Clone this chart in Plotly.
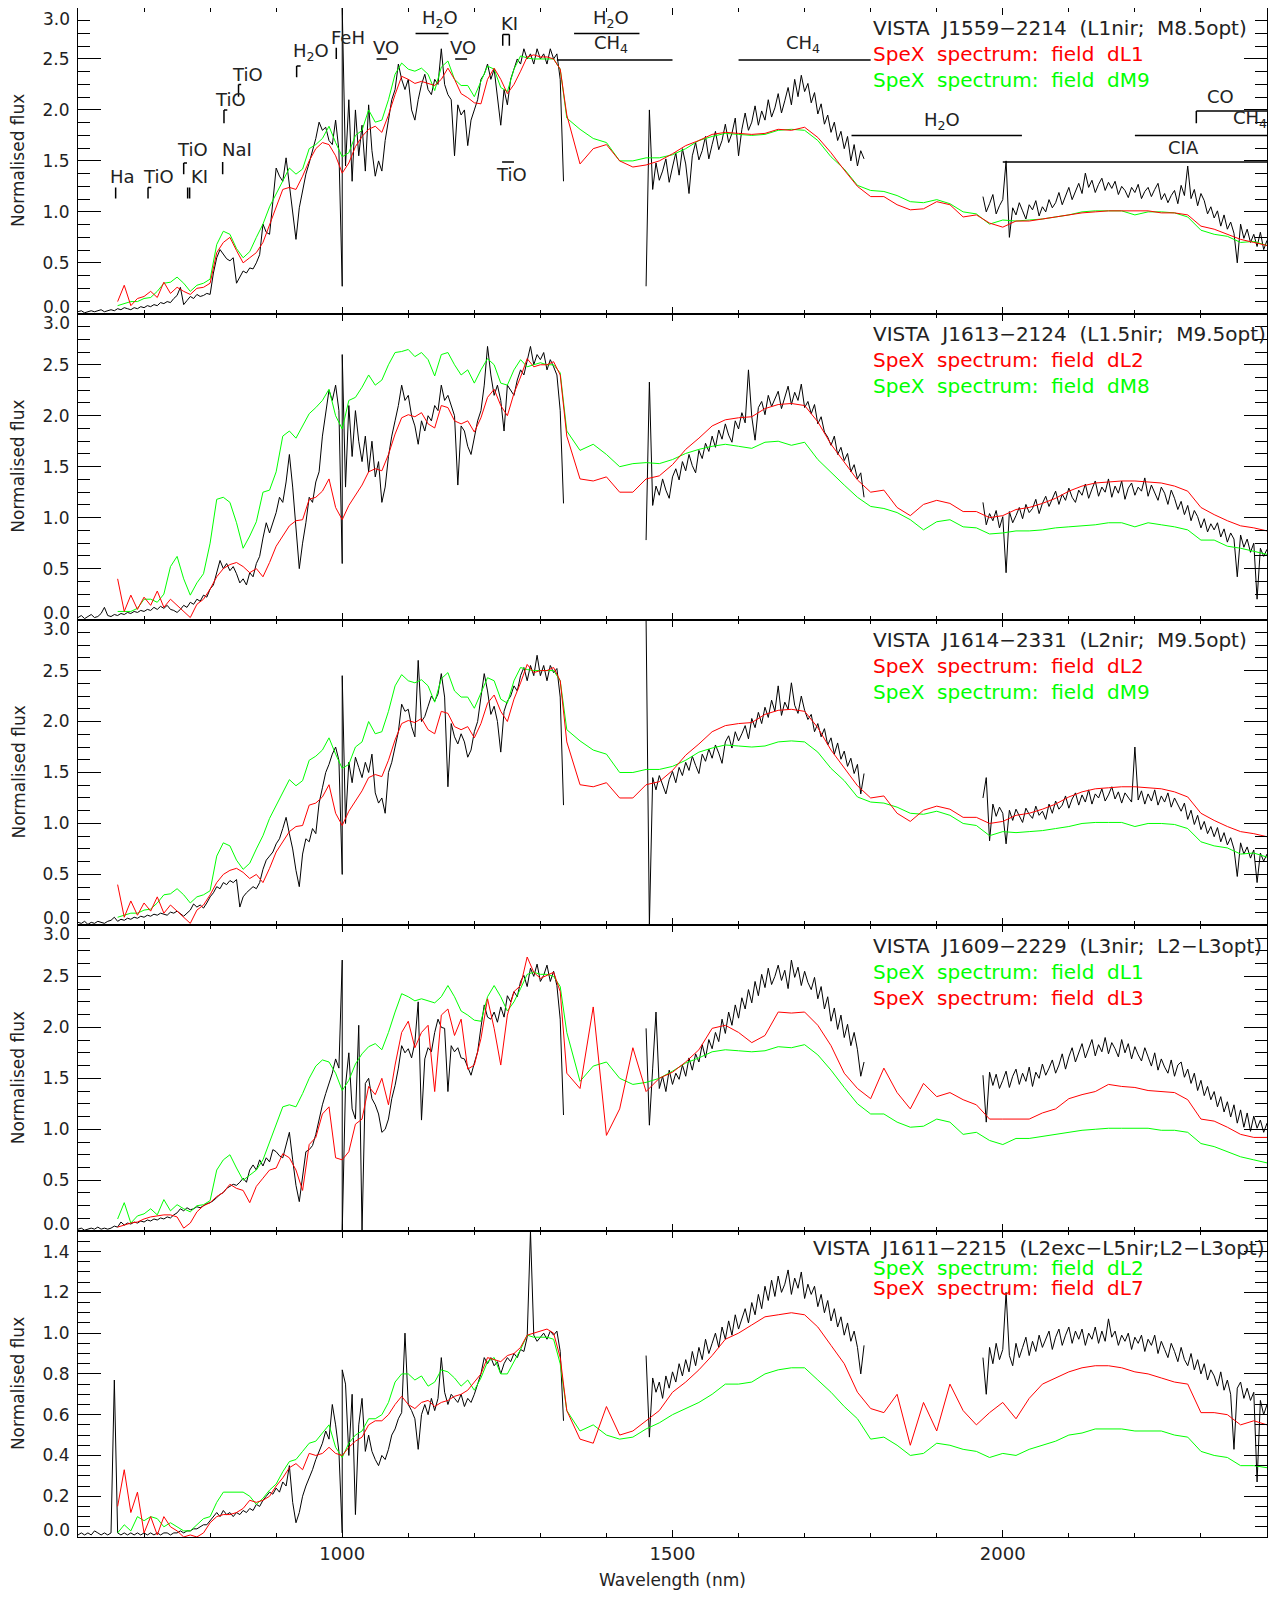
import plotly.graph_objects as go
from plotly.subplots import make_subplots

# ---------------------------------------------------------------------------
# Template (SpeX) spectra: part A 660-1340 nm every 10 nm, part B 1360-2400 nm every 20 nm
# ---------------------------------------------------------------------------
DL1_A = [0.12, 0.28, 0.08, 0.15,
         0.17, 0.22, 0.16, 0.31, 0.20, 0.26, 0.22, 0.19, 0.25, 0.26,
         0.30, 0.60, 0.70, 0.75, 0.62, 0.50, 0.55, 0.60, 0.70, 0.88,
         1.05, 1.22, 1.24, 1.22, 1.35, 1.50, 1.62, 1.68, 1.66, 1.55,
         1.38, 1.48, 1.64, 1.74, 1.81, 1.84, 1.78, 1.95, 2.15, 2.33,
         2.30, 2.26, 2.28, 2.26, 2.24, 2.30, 2.41, 2.30, 2.16, 2.12,
         2.07, 2.06, 2.30, 2.41, 2.30, 2.16, 2.25, 2.38, 2.52, 2.54,
         2.52, 2.52, 2.50, 2.40, 1.95]
DL1_B = [1.47, 1.62, 1.66, 1.50, 1.44,
         1.46, 1.50, 1.57, 1.65, 1.70, 1.76, 1.78, 1.77, 1.76, 1.77,
         1.81, 1.80, 1.83, 1.73, 1.58, 1.41, 1.25, 1.15, 1.15, 1.07,
         1.02, 1.03, 1.10, 1.07, 0.95, 0.97, 0.89, 0.85, 0.91, 0.91,
         0.93, 0.95, 0.97, 0.99, 1.00, 1.01, 1.01, 1.01, 1.01, 0.99,
         0.99, 0.97, 0.86, 0.83, 0.78, 0.73, 0.70, 0.67]

DM9_A = [0.08, 0.10, 0.12, 0.12,
         0.15, 0.16, 0.22, 0.30, 0.31, 0.36, 0.30, 0.22, 0.28, 0.30,
         0.34, 0.68, 0.81, 0.78, 0.64, 0.55, 0.61, 0.75, 0.88, 1.05,
         1.18, 1.30, 1.43, 1.37, 1.42, 1.62, 1.66, 1.72, 1.84, 1.68,
         1.54, 1.58, 1.75, 1.80, 2.00, 1.88, 1.90, 2.10, 2.35, 2.46,
         2.40, 2.38, 2.41, 2.35, 2.19, 2.42, 2.48, 2.30, 2.24, 2.24,
         2.13, 2.28, 2.43, 2.40, 2.22, 2.18, 2.40, 2.53, 2.51, 2.50,
         2.50, 2.50, 2.50, 2.40, 1.92]
DM9_B = [1.81, 1.72, 1.68, 1.50, 1.50,
         1.53, 1.53, 1.56, 1.62, 1.70, 1.74, 1.77, 1.76, 1.75, 1.76,
         1.80, 1.81, 1.80, 1.70, 1.54, 1.42, 1.26, 1.21, 1.20, 1.16,
         1.10, 1.09, 1.12, 1.08, 1.00, 0.98, 0.88, 0.92, 0.91, 0.92,
         0.93, 0.95, 0.97, 1.00, 1.01, 1.01, 1.01, 0.97, 1.00, 1.00,
         0.99, 0.95, 0.82, 0.78, 0.76, 0.70, 0.71, 0.67]

DL2_A = [0.40, 0.08, 0.24, 0.10,
         0.22, 0.14, 0.28, 0.12, 0.20, 0.14, 0.08, 0.02, 0.15, 0.20,
         0.30, 0.42, 0.50, 0.54, 0.56, 0.52, 0.46, 0.50, 0.42, 0.56,
         0.72, 0.82, 0.92, 0.97, 0.98, 1.18, 1.20, 1.26, 1.38, 1.10,
         0.98, 1.12, 1.22, 1.32, 1.45, 1.48, 1.46, 1.62, 1.82, 1.98,
         2.01, 1.99, 2.03, 1.92, 1.88, 2.10, 2.08, 1.95, 1.92, 1.95,
         1.84, 1.98, 2.18, 2.26, 2.10, 2.00, 2.22, 2.38, 2.56, 2.48,
         2.50, 2.50, 2.53, 2.40, 1.80]
DL2_B = [1.38, 1.36, 1.40, 1.25, 1.25,
         1.38, 1.41, 1.52, 1.67, 1.78, 1.90, 1.96, 1.98, 1.99, 2.07,
         2.11, 2.12, 2.10, 1.94, 1.72, 1.54, 1.37, 1.25, 1.27, 1.10,
         1.02, 1.13, 1.17, 1.14, 1.06, 1.06, 1.00, 1.02, 1.08, 1.10,
         1.14, 1.19, 1.26, 1.31, 1.34, 1.35, 1.36, 1.36, 1.35, 1.34,
         1.31, 1.26, 1.10, 1.03, 0.97, 0.92, 0.90, 0.87]

DM8_A = [0.08, 0.08, 0.08, 0.11,
         0.20, 0.20, 0.17, 0.25, 0.52, 0.62, 0.40, 0.24, 0.36, 0.45,
         0.75, 1.18, 1.20, 1.15, 0.95, 0.70, 0.82, 0.96, 1.25, 1.27,
         1.45, 1.80, 1.85, 1.78, 1.90, 2.02, 2.08, 2.15, 2.26, 2.00,
         1.87, 2.15, 2.18, 2.28, 2.40, 2.30, 2.35, 2.50, 2.62, 2.63,
         2.65, 2.58, 2.62, 2.55, 2.39, 2.60, 2.62, 2.50, 2.40, 2.45,
         2.32, 2.45, 2.56, 2.50, 2.32, 2.30, 2.45, 2.55, 2.48, 2.50,
         2.52, 2.50, 2.50, 2.42, 1.85]
DM8_B = [1.66, 1.72, 1.62, 1.50, 1.53,
         1.54, 1.53, 1.57, 1.63, 1.67, 1.70, 1.72, 1.70, 1.68, 1.74,
         1.75, 1.71, 1.74, 1.57, 1.44, 1.32, 1.20, 1.11, 1.09, 1.05,
         0.98, 0.88, 0.96, 0.98, 0.91, 0.90, 0.84, 0.85, 0.87, 0.87,
         0.88, 0.90, 0.91, 0.92, 0.93, 0.95, 0.95, 0.91, 0.95, 0.93,
         0.91, 0.88, 0.78, 0.78, 0.72, 0.70, 0.67, 0.64]

DL3_A = [0.04, 0.06, 0.08, 0.09,
         0.12, 0.14, 0.15, 0.16, 0.16, 0.14, 0.03, 0.08, 0.19, 0.25,
         0.28, 0.34, 0.38, 0.46, 0.42, 0.40, 0.28, 0.44, 0.52, 0.60,
         0.62, 0.76, 0.72, 0.60, 0.40, 0.85, 0.92, 1.15, 1.22, 0.72,
         0.70, 0.78, 1.05, 1.10, 1.42, 1.34, 1.50, 1.24, 1.63, 1.95,
         2.06, 1.80, 1.95, 2.02, 1.37, 2.12, 2.18, 1.92, 2.08, 1.59,
         1.63, 1.89, 2.28, 1.99, 1.63, 2.12, 2.35, 2.41, 2.69, 2.54,
         2.48, 2.51, 2.54, 2.35, 1.55]
DL3_B = [1.40, 2.20, 0.94, 1.20, 1.80,
         1.37, 1.50, 1.56, 1.66, 1.78, 1.99, 2.02, 1.95, 1.85, 1.92,
         2.15, 2.14, 2.15, 2.02, 1.82, 1.55, 1.40, 1.30, 1.60, 1.36,
         1.20, 1.45, 1.32, 1.36, 1.29, 1.24, 1.10, 1.10, 1.10, 1.10,
         1.16, 1.20, 1.30, 1.34, 1.37, 1.44, 1.42, 1.41, 1.38, 1.37,
         1.36, 1.29, 1.10, 1.08, 1.02, 0.95, 0.92, 0.92]

DL7_A = [0.15, 0.33, 0.12, 0.22,
         0.02, 0.10, 0.01, 0.10, 0.05, 0.03, 0.00, 0.01, 0.00, 0.02,
         0.07, 0.10, 0.11, 0.11, 0.12, 0.14, 0.18, 0.17, 0.18, 0.20,
         0.25, 0.29, 0.34, 0.36, 0.33, 0.41, 0.40, 0.41, 0.44, 0.41,
         0.40, 0.44, 0.47, 0.49, 0.55, 0.57, 0.57, 0.60, 0.65, 0.69,
         0.65, 0.63, 0.66, 0.67, 0.64, 0.66, 0.67, 0.69, 0.70, 0.72,
         0.76, 0.80, 0.88, 0.87, 0.86, 0.89, 0.90, 0.93, 0.99, 1.00,
         1.01, 1.02, 1.00, 0.88, 0.62]
DL7_B = [0.48, 0.46, 0.64, 0.50, 0.52,
         0.57, 0.62, 0.71, 0.76, 0.82, 0.89, 0.97, 1.00, 1.04, 1.08,
         1.09, 1.10, 1.09, 1.03, 0.94, 0.85, 0.71, 0.63, 0.61, 0.70,
         0.45, 0.66, 0.52, 0.75, 0.62, 0.55, 0.61, 0.66, 0.58, 0.68,
         0.75, 0.78, 0.81, 0.83, 0.84, 0.84, 0.83, 0.81, 0.80, 0.78,
         0.76, 0.75, 0.61, 0.61, 0.60, 0.55, 0.57, 0.55]

DL2N_A = [0.02, 0.06, 0.03, 0.10,
          0.08, 0.10, 0.09, 0.05, 0.07, 0.05, 0.03, 0.03, 0.06, 0.09,
          0.10, 0.17, 0.22, 0.22, 0.22, 0.22, 0.20, 0.16, 0.19, 0.23,
          0.26, 0.32, 0.37, 0.38, 0.42, 0.46, 0.47, 0.51, 0.55, 0.44,
          0.39, 0.46, 0.50, 0.52, 0.58, 0.58, 0.60, 0.66, 0.76, 0.80,
          0.80, 0.77, 0.79, 0.74, 0.76, 0.82, 0.81, 0.78, 0.74, 0.77,
          0.72, 0.78, 0.86, 0.88, 0.80, 0.80, 0.86, 0.92, 0.99, 0.98,
          0.98, 0.98, 0.97, 0.85, 0.62]
DL2N_B = [0.52, 0.55, 0.50, 0.48, 0.49,
          0.53, 0.56, 0.60, 0.63, 0.66, 0.70, 0.75, 0.75, 0.76, 0.80,
          0.82, 0.83, 0.83, 0.77, 0.71, 0.64, 0.58, 0.48, 0.49, 0.45,
          0.40, 0.41, 0.46, 0.45, 0.43, 0.42, 0.39, 0.41, 0.40, 0.43,
          0.45, 0.47, 0.50, 0.51, 0.53, 0.53, 0.53, 0.52, 0.52, 0.52,
          0.50, 0.49, 0.42, 0.40, 0.39, 0.35, 0.35, 0.34]

# ---------------------------------------------------------------------------
# VISTA target spectra, every 5 nm: optical 600-1000, J 1000-1335, H 1460-1790, K 1970-2400
# ---------------------------------------------------------------------------
P1_OPT = [0.02, 0.03, 0.01, 0.02, 0.03, 0.02, 0.03, 0.04, 0.02, 0.03,
          0.04, 0.03, 0.05, 0.04, 0.06, 0.05, 0.04, 0.06, 0.05, 0.07,
          0.06, 0.08, 0.07, 0.09, 0.08, 0.11, 0.10, 0.12, 0.11, 0.15,
          0.18, 0.26, 0.09, 0.13, 0.17, 0.15, 0.19, 0.17, 0.18, 0.20,
          0.19, 0.40, 0.55, 0.63, 0.58, 0.54, 0.52, 0.55, 0.30, 0.36,
          0.42, 0.40, 0.45, 0.44, 0.50, 0.58, 0.88, 0.80, 0.78, 1.10,
          1.43, 1.35, 1.30, 1.53, 1.27, 1.00, 0.73, 1.04, 1.20, 1.37,
          1.48, 1.60, 1.72, 1.88, 1.80, 1.83, 1.70, 1.66, 1.90, 1.60,
          0.27]
P1_J = [3.00, 1.45, 2.10, 1.30, 2.00, 1.55, 1.85, 1.40, 2.05, 1.60,
        1.35, 1.50, 1.40, 1.70, 1.90, 2.10, 2.20, 2.45, 2.30, 2.20,
        2.30, 2.00, 1.90, 2.10, 2.25, 2.35, 2.20, 2.15, 2.30, 2.25,
        2.60, 2.25, 2.15, 2.10, 1.55, 2.05, 1.95, 2.00, 1.65, 1.90,
        2.00, 2.10, 2.30, 2.35, 2.45, 2.30, 2.40, 2.10, 1.85, 2.20,
        2.05, 2.30, 2.40, 2.50, 2.45, 2.60, 2.50, 2.55, 2.45, 2.60,
        2.50, 2.55, 2.45, 2.60, 2.50, 2.55, 2.30, 1.30]
P1_H = [0.27, 2.00, 1.22, 1.48, 1.31, 1.40, 1.52, 1.29, 1.44, 1.58,
        1.36, 1.62, 1.47, 1.18, 1.55, 1.68, 1.51, 1.60, 1.74, 1.52,
        1.66, 1.79, 1.61, 1.70, 1.86, 1.68, 1.77, 1.92, 1.55, 1.81,
        1.97, 1.80, 1.88, 2.04, 1.85, 1.99, 1.90, 2.10, 1.93, 2.02,
        2.16, 1.97, 2.09, 2.22, 2.05, 2.30, 2.13, 2.34, 2.18, 2.26,
        2.07, 2.17, 1.96, 2.06, 1.86, 1.95, 1.78, 1.88, 1.70, 1.79,
        1.62, 1.74, 1.50, 1.66, 1.45, 1.60, 1.52]
P1_K = [1.15, 1.00, 1.08, 1.17, 0.98, 1.06, 1.12, 1.50, 0.75, 1.04,
        0.97, 1.09, 1.01, 0.93, 1.07, 1.02, 1.11, 0.96, 1.05, 1.00,
        1.12, 1.04, 1.09, 1.19, 1.07, 1.15, 1.24, 1.12, 1.20, 1.28,
        1.18, 1.38, 1.24, 1.31, 1.19, 1.27, 1.33, 1.21, 1.29, 1.23,
        1.30, 1.17, 1.25, 1.21, 1.14, 1.24, 1.19, 1.27, 1.13, 1.20,
        1.24, 1.15, 1.22, 1.28, 1.12, 1.18, 1.09, 1.16, 1.21, 1.08,
        1.26, 1.16, 1.45, 1.13, 1.22, 1.06, 1.18, 1.11, 0.98, 1.05,
        0.94, 1.01, 0.86, 0.97, 0.83, 0.90, 0.79, 0.50, 0.88, 0.74,
        0.83, 0.70, 0.78, 0.66, 0.80, 0.63, 0.72]

P2_OPT = [0.02, 0.04, 0.01, 0.03, 0.05, 0.02, 0.03, 0.06, 0.12, 0.04,
          0.03, 0.05, 0.04, 0.06, 0.05, 0.07, 0.06, 0.08, 0.07, 0.09,
          0.08, 0.10, 0.09, 0.12, 0.10, 0.13, 0.11, 0.14, 0.10, 0.09,
          0.07, 0.10, 0.14, 0.12, 0.17, 0.15, 0.20, 0.18, 0.24, 0.22,
          0.30, 0.34, 0.45, 0.58, 0.50, 0.55, 0.48, 0.52, 0.45, 0.36,
          0.40, 0.34, 0.46, 0.42, 0.55, 0.62, 0.80, 0.95, 0.85, 0.95,
          1.05, 1.20, 1.15, 1.35, 1.62, 1.30, 0.90, 0.50, 0.75, 0.95,
          1.20, 1.15, 1.35, 1.45, 1.80, 2.05, 2.25, 2.15, 2.30, 2.05,
          0.55]
P2_J = [2.60, 1.30, 2.10, 1.60, 2.05, 1.75, 1.55, 1.80, 1.45, 1.75,
        1.40, 1.55, 1.15, 1.30, 1.60, 1.80, 1.95, 2.10, 2.30, 2.15,
        2.20, 2.00, 1.90, 1.72, 1.95, 1.85, 2.00, 1.95, 2.10, 2.05,
        2.30, 2.15, 2.20, 2.10, 2.00, 1.32, 1.90, 1.85, 1.70, 1.62,
        1.80, 1.95, 2.05, 2.30, 2.68, 2.40, 2.20, 2.30, 2.15, 1.85,
        2.30, 2.25, 2.20, 2.35, 2.45, 2.40, 2.55, 2.68, 2.50, 2.60,
        2.55, 2.62, 2.45, 2.55, 2.48, 2.40, 2.05, 1.14]
P2_H = [0.78, 2.33, 1.12, 1.31, 1.22, 1.38, 1.27, 1.19, 1.40, 1.48,
        1.37, 1.55, 1.46, 1.62, 1.51, 1.44, 1.66, 1.58, 1.73, 1.65,
        1.80, 1.69, 1.86, 1.77, 1.92, 1.81, 1.74, 1.95, 1.87, 2.03,
        1.93, 2.45, 1.99, 1.76, 2.08, 2.14, 2.01, 2.20, 2.09, 2.16,
        2.24, 2.07, 2.19, 2.29, 2.11, 2.23, 2.15, 2.31, 2.08, 2.14,
        2.02, 2.11, 1.92, 1.99, 1.84, 1.79, 1.71, 1.80, 1.62, 1.69,
        1.56, 1.63, 1.45, 1.52, 1.38, 1.44, 1.20]
P2_K = [1.15, 0.93, 1.04, 0.97, 1.07, 0.90, 1.01, 0.46, 1.06, 0.95,
        1.02, 1.10, 0.99, 1.13, 1.05, 1.09, 1.18, 1.04, 1.14, 1.21,
        1.11, 1.19, 1.26, 1.13, 1.23, 1.17, 1.29, 1.20, 1.15, 1.27,
        1.22, 1.33, 1.19, 1.28, 1.36, 1.21, 1.30, 1.25, 1.38, 1.20,
        1.31, 1.24, 1.36, 1.18, 1.29, 1.34, 1.22, 1.30, 1.26, 1.39,
        1.21, 1.32, 1.25, 1.17, 1.30, 1.24, 1.13, 1.27, 1.19, 1.08,
        1.16, 1.03, 1.12, 0.97, 1.07, 1.01, 0.90, 0.99, 0.86, 0.94,
        0.88, 0.95, 0.81, 0.89, 0.76, 0.85, 0.79, 0.42, 0.83, 0.71,
        0.79, 0.66, 0.75, 0.20, 0.70, 0.62, 0.69]

P3_OPT = [0.03, 0.02, 0.04, 0.01, 0.03, 0.02, 0.04, 0.03, 0.02, 0.04,
          0.05, 0.08, 0.04, 0.06, 0.05, 0.07, 0.06, 0.08, 0.07, 0.09,
          0.08, 0.10, 0.09, 0.11, 0.10, 0.12, 0.11, 0.10, 0.13, 0.12,
          0.14, 0.11, 0.09, 0.12, 0.15, 0.21, 0.18, 0.20, 0.17, 0.22,
          0.28, 0.32, 0.38, 0.36, 0.42, 0.40, 0.44, 0.42, 0.45, 0.18,
          0.28, 0.32, 0.35, 0.38, 0.36, 0.42, 0.55, 0.64, 0.68, 0.72,
          0.80, 0.85, 0.95, 1.06, 0.90, 0.75, 0.54, 0.38, 0.70, 0.85,
          0.82, 0.95, 0.90, 1.20, 1.35, 1.50, 1.58, 1.68, 1.75, 1.62,
          0.50]
P3_J = [2.45, 1.00, 1.60, 1.40, 1.65, 1.55, 1.45, 1.60, 1.50, 1.68,
        1.30, 1.20, 1.25, 1.10, 1.50, 1.60, 1.75, 1.90, 2.17, 2.10,
        2.12, 1.95, 1.85, 2.60, 2.00, 2.05, 2.15, 2.25, 2.20, 2.27,
        2.47, 2.24, 1.36, 1.98, 1.85, 1.78, 1.88, 1.80, 1.65, 1.72,
        1.90, 2.00, 2.24, 2.47, 2.30, 2.07, 2.15, 2.00, 1.70, 2.10,
        2.20, 2.25, 2.35, 2.30, 2.45, 2.53, 2.40, 2.55, 2.45, 2.65,
        2.45, 2.55, 2.40, 2.55, 2.48, 2.52, 2.24, 1.18]
P3_H = [3.00, 0.00, 1.45, 1.33, 1.47, 1.38, 1.29, 1.43, 1.51, 1.40,
        1.55, 1.47, 1.60, 1.52, 1.66, 1.57, 1.49, 1.68, 1.61, 1.73,
        1.64, 1.77, 1.69, 1.59, 1.80, 1.86, 1.74, 1.90, 1.81, 1.88,
        1.96, 1.83, 2.03, 1.94, 2.09, 1.98, 2.14, 2.04, 2.21, 2.10,
        2.35, 2.06, 2.19, 2.12, 2.38, 2.16, 2.08, 2.25, 2.11, 2.02,
        2.07, 1.90, 1.98, 1.85, 1.93, 1.77, 1.84, 1.68, 1.79, 1.63,
        1.71, 1.56, 1.64, 1.49, 1.58, 1.29, 1.49]
P3_K = [1.25, 1.45, 0.83, 1.19, 1.07, 1.16, 1.10, 0.80, 1.13, 1.03,
        1.14, 1.07, 1.01, 1.15, 1.09, 1.05, 1.17, 1.08, 1.12, 1.04,
        1.19, 1.10, 1.22, 1.14, 1.18, 1.27, 1.15, 1.24, 1.30, 1.18,
        1.28, 1.21, 1.33, 1.19, 1.29, 1.25, 1.34, 1.22, 1.28, 1.36,
        1.24, 1.31, 1.20, 1.30, 1.26, 1.21, 1.75, 1.23, 1.32, 1.19,
        1.29, 1.22, 1.33, 1.18, 1.27, 1.21, 1.30, 1.16, 1.25, 1.19,
        1.12, 1.20, 1.04, 1.13, 0.99, 1.08, 0.94, 1.02, 0.90, 0.97,
        0.87, 0.96, 0.82, 0.91, 0.79, 0.86, 0.75, 0.48, 0.81, 0.70,
        0.77, 0.66, 0.74, 0.42, 0.71, 0.63, 0.70]

P4_OPT = [0.02, 0.03, 0.01, 0.02, 0.03, 0.02, 0.04, 0.02, 0.03, 0.02,
          0.03, 0.05, 0.04, 0.09, 0.06, 0.08, 0.07, 0.09, 0.08, 0.10,
          0.09, 0.11, 0.10, 0.12, 0.11, 0.13, 0.12, 0.14, 0.13, 0.16,
          0.18, 0.22, 0.20, 0.23, 0.21, 0.22, 0.24, 0.23, 0.25, 0.27,
          0.28, 0.30, 0.33, 0.36, 0.38, 0.42, 0.44, 0.46, 0.45, 0.48,
          0.52, 0.48, 0.60, 0.65, 0.60, 0.70, 0.64, 0.72, 0.68, 0.80,
          0.78, 0.74, 0.72, 0.85, 0.97, 0.70, 0.45, 0.29, 0.55, 0.78,
          0.80, 0.84, 0.95, 1.10, 1.24, 1.35, 1.45, 1.55, 1.69, 1.60,
          2.66]
P4_J = [0.00, 1.43, 1.75, 1.20, 1.10, 2.02, 0.00, 1.45, 1.50, 1.30,
        1.24, 1.15, 0.97, 1.00, 1.10, 1.30, 1.43, 1.60, 1.82, 1.75,
        1.79, 1.70, 1.85, 2.25, 1.09, 1.69, 1.80, 1.76, 1.95, 2.08,
        2.00, 1.99, 1.37, 1.82, 1.76, 1.80, 1.70, 1.69, 1.60, 1.53,
        1.65, 1.76, 2.00, 2.22, 2.10, 2.08, 2.15, 2.05, 2.20, 2.10,
        2.31, 2.25, 2.35, 2.30, 2.45, 2.51, 2.40, 2.58, 2.50, 2.62,
        2.45, 2.51, 2.61, 2.45, 2.55, 2.41, 2.08, 1.14]
P4_H = [1.99, 1.04, 1.60, 2.15, 1.40, 1.52, 1.37, 1.58, 1.44, 1.55,
        1.49, 1.63, 1.52, 1.70, 1.58, 1.74, 1.66, 1.83, 1.70, 1.88,
        1.79, 1.95, 1.86, 2.08, 1.94, 2.15, 2.02, 2.22, 2.09, 2.29,
        2.18, 2.37, 2.24, 2.45, 2.31, 2.52, 2.39, 2.58, 2.42, 2.50,
        2.61, 2.46, 2.56, 2.38, 2.66, 2.49, 2.59, 2.41, 2.55, 2.44,
        2.37, 2.49, 2.28, 2.40, 2.18, 2.30, 2.06, 2.19, 1.98, 2.12,
        1.90, 2.03, 1.82, 1.95, 1.78, 1.52, 1.66]
P4_K = [1.53, 1.07, 1.56, 1.43, 1.54, 1.40, 1.48, 1.57, 1.41, 1.52,
        1.59, 1.44, 1.55, 1.47, 1.61, 1.42, 1.56, 1.50, 1.64, 1.53,
        1.60, 1.68, 1.55, 1.63, 1.74, 1.59, 1.71, 1.80, 1.66, 1.76,
        1.84, 1.70, 1.79, 1.88, 1.72, 1.83, 1.76, 1.90, 1.74, 1.85,
        1.79, 1.71, 1.88, 1.75, 1.84, 1.69, 1.81, 1.73, 1.67, 1.80,
        1.71, 1.62, 1.75, 1.58, 1.69, 1.61, 1.55, 1.68, 1.52, 1.63,
        1.66, 1.51, 1.59, 1.45, 1.55, 1.38, 1.48, 1.33, 1.42, 1.29,
        1.37, 1.22, 1.32, 1.17, 1.27, 1.12, 1.24, 1.06, 1.19, 1.02,
        1.16, 0.98, 1.13, 1.01, 1.09, 0.97, 1.06]

P5_OPT = [0.01, 0.02, 0.01, 0.02, 0.01, 0.03, 0.02, 0.01, 0.02, 0.01,
          0.02, 0.77, 0.02, 0.01, 0.02, 0.01, 0.02, 0.01, 0.02, 0.01,
          0.02, 0.01, 0.02, 0.01, 0.02, 0.01, 0.02, 0.02, 0.01, 0.02,
          0.02, 0.03, 0.02, 0.03, 0.03, 0.04, 0.04, 0.05, 0.06, 0.06,
          0.08, 0.10, 0.12, 0.10, 0.13, 0.11, 0.12, 0.10, 0.12, 0.11,
          0.13, 0.12, 0.14, 0.13, 0.16, 0.15, 0.18, 0.20, 0.22, 0.21,
          0.24, 0.22, 0.27, 0.25, 0.35, 0.17, 0.07, 0.12, 0.20, 0.25,
          0.29, 0.33, 0.38, 0.42, 0.46, 0.52, 0.48, 0.65, 0.55, 0.42,
          0.02]
P5_J = [0.82, 0.75, 0.40, 0.70, 0.11, 0.55, 0.68, 0.42, 0.50, 0.42,
        0.38, 0.35, 0.40, 0.38, 0.43, 0.50, 0.53, 0.58, 0.61, 1.00,
        0.65, 0.62, 0.58, 0.43, 0.60, 0.65, 0.60, 0.68, 0.62, 0.68,
        0.88, 0.71, 0.65, 0.70, 0.68, 0.66, 0.70, 0.64, 0.68, 0.66,
        0.70, 0.75, 0.80, 0.88, 0.85, 0.88, 0.84, 0.86, 0.80, 0.85,
        0.88, 0.86, 0.90, 0.88, 0.92, 0.91, 0.98, 1.50, 0.99, 0.96,
        0.98, 1.00, 0.97, 1.01, 0.99, 1.01, 0.91, 0.57]
P5_H = [0.89, 0.49, 0.78, 0.71, 0.76, 0.68, 0.79, 0.73, 0.81, 0.76,
        0.85, 0.79, 0.87, 0.81, 0.91, 0.84, 0.93, 0.87, 0.97, 0.90,
        0.95, 1.00, 0.93, 1.03, 0.97, 1.06, 0.99, 1.09, 1.02, 1.07,
        1.12, 1.05, 1.15, 1.09, 1.19, 1.12, 1.23, 1.16, 1.26, 1.18,
        1.28, 1.20, 1.24, 1.31, 1.19, 1.27, 1.22, 1.30, 1.17, 1.24,
        1.19, 1.23, 1.13, 1.19, 1.10, 1.16, 1.06, 1.12, 1.03, 1.08,
        0.99, 1.05, 0.96, 1.01, 0.93, 0.80, 0.94]
P5_K = [0.88, 0.70, 0.93, 0.85, 0.95, 0.87, 0.92, 1.20, 0.89, 0.84,
        0.95, 0.88, 0.93, 0.98, 0.89, 0.96, 0.91, 0.99, 0.93, 0.97,
        1.01, 0.92, 0.98, 1.02, 0.94, 0.99, 1.03, 0.95, 1.01, 0.97,
        1.02, 0.94, 1.00, 0.97, 1.03, 0.95, 1.01, 0.96, 1.07, 0.98,
        1.01, 0.94, 0.99, 0.96, 1.00, 0.92, 0.98, 0.95, 0.99, 0.91,
        0.97, 0.94, 0.99, 0.90, 0.96, 0.92, 0.88, 0.95, 0.91, 0.86,
        0.93, 0.87, 0.84, 0.90, 0.82, 0.87, 0.80, 0.85, 0.77, 0.82,
        0.79, 0.74, 0.81, 0.72, 0.77, 0.70, 0.43, 0.73, 0.76, 0.68,
        0.73, 0.67, 0.71, 0.27, 0.67, 0.60, 0.65]

# panel texts: (target, [(legend text, colour), ...])
PANEL_TEXT = [
    ("VISTA J1559\u22122214 (L1nir; M8.5opt)", [("SpeX spectrum: field dL1", "red"), ("SpeX spectrum: field dM9", "lime")]),
    ("VISTA J1613\u22122124 (L1.5nir; M9.5opt)", [("SpeX spectrum: field dL2", "red"), ("SpeX spectrum: field dM8", "lime")]),
    ("VISTA J1614\u22122331 (L2nir; M9.5opt)", [("SpeX spectrum: field dL2", "red"), ("SpeX spectrum: field dM9", "lime")]),
    ("VISTA J1609\u22122229 (L3nir; L2\u2212L3opt)", [("SpeX spectrum: field dL1", "lime"), ("SpeX spectrum: field dL3", "red")]),
    ("VISTA J1611\u22122215 (L2exc\u2212L5nir;L2\u2212L3opt)", [("SpeX spectrum: field dL2", "lime"), ("SpeX spectrum: field dL7", "red")]),
]

PANELS = [
    dict(black=(P1_OPT, P1_J, P1_H, P1_K), models=[("lime", DM9_A, DM9_B), ("red", DL1_A, DL1_B)]),
    dict(black=(P2_OPT, P2_J, P2_H, P2_K), models=[("lime", DM8_A, DM8_B), ("red", DL2_A, DL2_B)]),
    dict(black=(P3_OPT, P3_J, P3_H, P3_K), models=[("lime", DM9_A, DM9_B), ("red", DL2_A, DL2_B)]),
    dict(black=(P4_OPT, P4_J, P4_H, P4_K), models=[("lime", DL1_A, DL1_B), ("red", DL3_A, DL3_B)]),
    dict(black=(P5_OPT, P5_J, P5_H, P5_K), models=[("lime", DL2N_A, DL2N_B), ("red", DL7_A, DL7_B)]),
]

# absorption feature labels in the top panel
FEATURE_LABELS = [
    ("Ha", 668, 1.35), ("TiO", 722, 1.35), ("TiO", 773, 1.61), ("KI", 784, 1.35),
    ("TiO", 831, 2.10), ("TiO", 857, 2.35), ("NaI", 840, 1.61),
    ("H<sub>2</sub>O", 953, 2.57), ("FeH", 1009, 2.71), ("VO", 1067, 2.61),
    ("H<sub>2</sub>O", 1148, 2.89), ("VO", 1183, 2.61), ("KI", 1253, 2.85), ("TiO", 1257, 1.37),
    ("H<sub>2</sub>O", 1407, 2.89), ("CH<sub>4</sub>", 1407, 2.65), ("CH<sub>4</sub>", 1697, 2.65),
    ("H<sub>2</sub>O", 1908, 1.89), ("CO", 2330, 2.13), ("CH<sub>4</sub>", 2375, 1.91), ("CIA", 2274, 1.63),
]
FEATURE_MARKS = [
    [(657, 1.13), (657, 1.24)],
    [(706, 1.13), (706, 1.24), (711, 1.24)],
    [(760, 1.37), (760, 1.48), (765, 1.48)],
    [(766, 1.13), (766, 1.24)], [(769, 1.13), (769, 1.24)],
    [(821, 1.87), (821, 2.00), (826, 2.00)],
    [(843, 2.13), (843, 2.25), (847, 2.25)],
    [(819, 1.37), (819, 1.49)],
    [(931, 2.32), (931, 2.43), (937, 2.43)],
    [(991, 2.50), (991, 2.61)],
    [(1052, 2.50), (1068, 2.50)],
    [(1111, 2.75), (1161, 2.75)],
    [(1171, 2.50), (1189, 2.50)],
    [(1243, 2.63), (1243, 2.74), (1253, 2.74), (1253, 2.63)],
    [(1242, 1.49), (1260, 1.49)],
    [(1351, 2.75), (1450, 2.75)],
    [(1325, 2.49), (1500, 2.49)],
    [(1600, 2.49), (1800, 2.49)],
    [(1771, 1.75), (2029, 1.75)],
    [(2293, 1.87), (2293, 1.99), (2400, 1.99)],
    [(2200, 1.75), (2400, 1.75)],
    [(2000, 1.49), (2400, 1.49)],
]

FONT = "DejaVu Sans"
TXT = "#222222"


def wide(s):
    # IDL-style wide word spacing
    return s.replace(" ", "\u00a0\u00a0")


def model_xy(a, b):
    x = [660 + 10 * i for i in range(len(a))] + [1360 + 20 * i for i in range(len(b))]
    return x, list(a) + list(b)


def black_xy(opt, j, h, k):
    x = ([600 + 5 * i for i in range(len(opt))] + [1000 + 5 * i for i in range(len(j))] + [None]
         + [1460 + 5 * i for i in range(len(h))] + [None] + [1970 + 5 * i for i in range(len(k))])
    y = list(opt) + list(j) + [None] + list(h) + [None] + list(k)
    return x, y


fig = make_subplots(rows=5, cols=1, shared_xaxes=True, vertical_spacing=0)

for row, panel in enumerate(PANELS, start=1):
    bx, by = black_xy(*panel["black"])
    fig.add_trace(go.Scatter(x=bx, y=by, mode="lines", line=dict(color="black", width=1),
                             connectgaps=False, showlegend=False, hoverinfo="skip"), row=row, col=1)
    for color, a, b in panel["models"]:
        mx, my = model_xy(a, b)
        fig.add_trace(go.Scatter(x=mx, y=my, mode="lines", line=dict(color=color, width=1),
                                 showlegend=False, hoverinfo="skip"), row=row, col=1)

fig.update_xaxes(range=[600, 2400], tick0=0, dtick=500, ticks="inside", ticklen=7, tickcolor="black",
                 minor=dict(dtick=100, tick0=0, ticks="inside", ticklen=4, tickcolor="black"),
                 showline=True, linecolor="black", linewidth=1, mirror="allticks", automargin=False,
                 showgrid=False, zeroline=False, tickfont=dict(family=FONT, size=18, color=TXT))

annotations = []
for row in range(1, 6):
    yref = "y" if row == 1 else "y%d" % row
    if row < 5:
        top = 3.0
        vals = [0, 0.5, 1.0, 1.5, 2.0, 2.5, 3.0]
        minor_dt = 0.125
        texts = ["" if v in (0, 3.0) else "%.1f" % v for v in vals]
    else:
        top = 1.5
        vals = [0, 0.2, 0.4, 0.6, 0.8, 1.0, 1.2, 1.4]
        minor_dt = 0.05
        texts = ["" if v == 0 else "%.1f" % v for v in vals]
    fig.update_yaxes(range=[0, top], tickmode="array", tickvals=vals, ticktext=texts,
                     ticks="inside", ticklen=23, tickcolor="black", ticklabelstandoff=4,
                     minor=dict(tickmode="linear", tick0=0, dtick=minor_dt, ticks="inside",
                                ticklen=12, tickcolor="black"),
                     showline=True, linecolor="black", linewidth=1, mirror="allticks",
                     showgrid=False, zeroline=False, automargin=False,
                     tickfont=dict(family=FONT, size=17, color=TXT), row=row, col=1)
    # edge tick labels nudged inside like the original
    annotations.append(dict(text="0.0", xref="paper", x=0, xanchor="right", xshift=-6,
                            yref=yref, y=0, yanchor="middle", yshift=7, showarrow=False,
                            font=dict(family=FONT, size=17, color=TXT)))
    if row < 5:
        annotations.append(dict(text="3.0", xref="paper", x=0, xanchor="right", xshift=-6,
                                yref=yref, y=3.0, yanchor="middle", yshift=-11 if row == 1 else -9,
                                showarrow=False, font=dict(family=FONT, size=17, color=TXT)))
    # y title
    annotations.append(dict(text="Normalised flux", textangle=-90, xref="paper", x=0, xshift=-60,
                            xanchor="center", yref=yref + " domain", y=0.5, yanchor="middle",
                            showarrow=False, font=dict(family=FONT, size=17, color=TXT)))
    # legend text block
    target, lines = PANEL_TEXT[row - 1]
    xref = "x" if row == 1 else "x%d" % row
    if row < 5:
        ys = [2.80, 2.545, 2.29]
        tx = 1801
    else:
        ys = [1.42, 1.318, 1.22]
        tx = 1710
    annotations.append(dict(text=wide(target), xref=xref, x=tx, xanchor="left", yref=yref, y=ys[0],
                            yanchor="middle", showarrow=False, font=dict(family=FONT, size=20, color=TXT)))
    for (txt, col), yy in zip(lines, ys[1:]):
        annotations.append(dict(text=wide(txt), xref=xref, x=1801, xanchor="left", yref=yref, y=yy,
                                yanchor="middle", showarrow=False, font=dict(family=FONT, size=20, color=col)))

for txt, x, y in FEATURE_LABELS:
    annotations.append(dict(text=txt, xref="x", yref="y", x=x, y=y, xanchor="center", yanchor="middle",
                            showarrow=False, font=dict(family=FONT, size=18, color=TXT)))

annotations.append(dict(text="Wavelength (nm)", xref="paper", x=0.5, xanchor="center",
                        yref="paper", y=0, yshift=-43, yanchor="middle", showarrow=False,
                        font=dict(family=FONT, size=17, color=TXT)))

shapes = []
for mark in FEATURE_MARKS:
    for (x0, y0), (x1, y1) in zip(mark[:-1], mark[1:]):
        shapes.append(dict(type="line", xref="x", yref="y", x0=x0, y0=y0, x1=x1, y1=y1,
                           line=dict(color="black", width=1.5)))

# the page adds an 8 px body margin, so the figure is sized to fit inside the window
fig.update_layout(width=1260, height=1582, margin=dict(l=70, r=1, t=0, b=53),
                  plot_bgcolor="white", paper_bgcolor="white", showlegend=False,
                  annotations=annotations, shapes=shapes,
                  font=dict(family=FONT, color=TXT))

fig.write_html("out.html")
